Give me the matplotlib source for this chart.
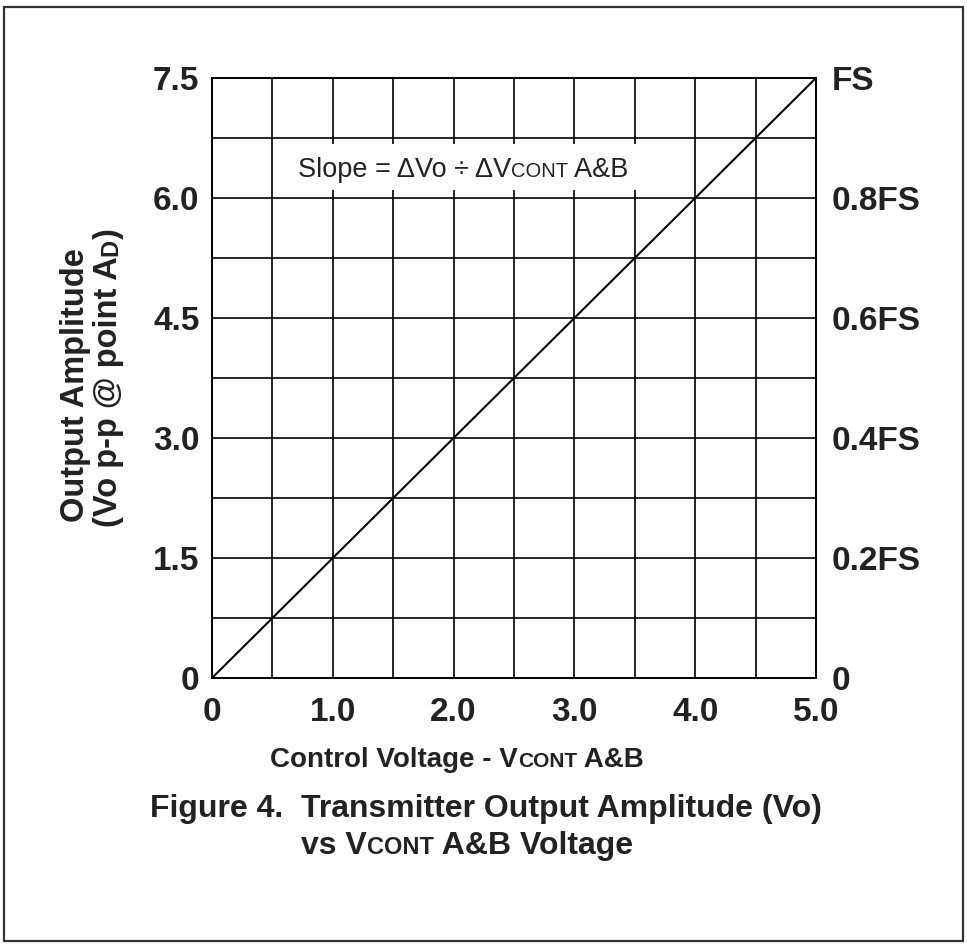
import matplotlib
matplotlib.use("Agg")
import matplotlib.pyplot as plt
from matplotlib.transforms import IdentityTransform
from matplotlib.patches import Rectangle
from matplotlib import font_manager

# data
vcont = [0.0, 5.0]
vo_pp = [0.0, 7.5]
x_ticks = [0, 0.5, 1.0, 1.5, 2.0, 2.5, 3.0, 3.5, 4.0, 4.5, 5.0]
x_labels = ["0", "", "1.0", "", "2.0", "", "3.0", "", "4.0", "", "5.0"]
y_ticks = [0, 0.75, 1.5, 2.25, 3.0, 3.75, 4.5, 5.25, 6.0, 6.75, 7.5]
y_labels = ["0", "", "1.5", "", "3.0", "", "4.5", "", "6.0", "", "7.5"]
fs_labels = ["0", "", "0.2FS", "", "0.4FS", "", "0.6FS", "", "0.8FS", "", "FS"]

names = {f.name for f in font_manager.fontManager.ttflist}
NARROW = "Liberation Sans Narrow" if "Liberation Sans Narrow" in names else "Liberation Sans"
SANS = "Liberation Sans"
plt.rcParams['font.family'] = [SANS, 'DejaVu Sans']
INK = "#222222"

W, H = 967, 944
fig = plt.figure(figsize=(W / 100, H / 100), dpi=100)
ax = fig.add_axes([212 / W, 1 - 678 / H, 604 / W, 600 / H])

ax.plot(vcont, vo_pp, color="black", lw=1.5)
ax.set_xlim(0, 5)
ax.set_ylim(0, 7.5)
ax.set_xticks(x_ticks)
ax.set_xticklabels(x_labels, fontfamily=NARROW, fontweight="bold", fontsize=24, color=INK)
ax.set_yticks(y_ticks)
ax.set_yticklabels(y_labels, fontfamily=NARROW, fontweight="bold", fontsize=24, color=INK)
ax.grid(True, color="black", lw=1.2)
ax.tick_params(axis="y", length=0, pad=9)
ax.tick_params(axis="x", length=0, pad=14)
for sp in ax.spines.values():
    sp.set_linewidth(1.4)

ax2 = ax.twinx()
ax2.set_ylim(0, 7.5)
ax2.set_yticks(y_ticks)
ax2.set_yticklabels(fs_labels, fontfamily=NARROW, fontweight="bold", fontsize=24, color=INK)
ax2.tick_params(length=0, pad=11.5)
for sp in ax2.spines.values():
    sp.set_visible(False)

renderer = fig.canvas.get_renderer()


def run_text(x, y, pieces, rotation=0, zorder=5, **kw):
    # place text pieces one after another, in pixels (y from top)
    y = H - y
    boxes = []
    for s, size in pieces:
        t = fig.text(x, y, s, fontsize=size, transform=IdentityTransform(),
                     rotation=rotation, rotation_mode="anchor",
                     ha="left", va="baseline", zorder=zorder, **kw)
        bb = t.get_window_extent(renderer)
        boxes.append(bb)
        if rotation == 0:
            x = bb.x1
        else:
            y = bb.y1
    return boxes


# slope note with white background
boxes = run_text(298, 177, [("Slope = \u0394Vo \u00f7 \u0394V", 19.5), ("CONT", 14.5), (" A&B", 19.5)],
                 color=INK, zorder=6)
x0 = min(b.x0 for b in boxes) - 8
x1 = max(b.x1 for b in boxes) + 8
fig.patches.append(Rectangle((x0, H - 190), x1 - x0, 46, transform=IdentityTransform(),
                             facecolor="white", edgecolor="none", zorder=4))

# x label
run_text(270, 767, [("Control Voltage - V", 20), ("CONT", 15), (" A&B", 20)],
         fontfamily=NARROW, fontweight="bold", color=INK)

# y label
run_text(84, 522, [("Output Amplitude", 23.5)], rotation=90,
         fontweight="bold", color=INK)
run_text(117, 527, [("(Vo p-p @ point A", 23.5), ("D", 17), (")", 23.5)], rotation=90,
         fontweight="bold", color=INK)

# caption
run_text(150, 817, [("Figure 4.  Transmitter Output Amplitude (Vo)", 23)],
         fontweight="bold", color=INK)
run_text(301, 854, [("vs V", 23), ("CONT", 17), (" A&B Voltage", 23)],
         fontweight="bold", color=INK)

# page frame
fig.patches.append(Rectangle((4, H - 941), 959, 934, transform=IdentityTransform(),
                             facecolor="none", edgecolor="#333333", lw=1.6))

fig.savefig("out.png", dpi=100)
